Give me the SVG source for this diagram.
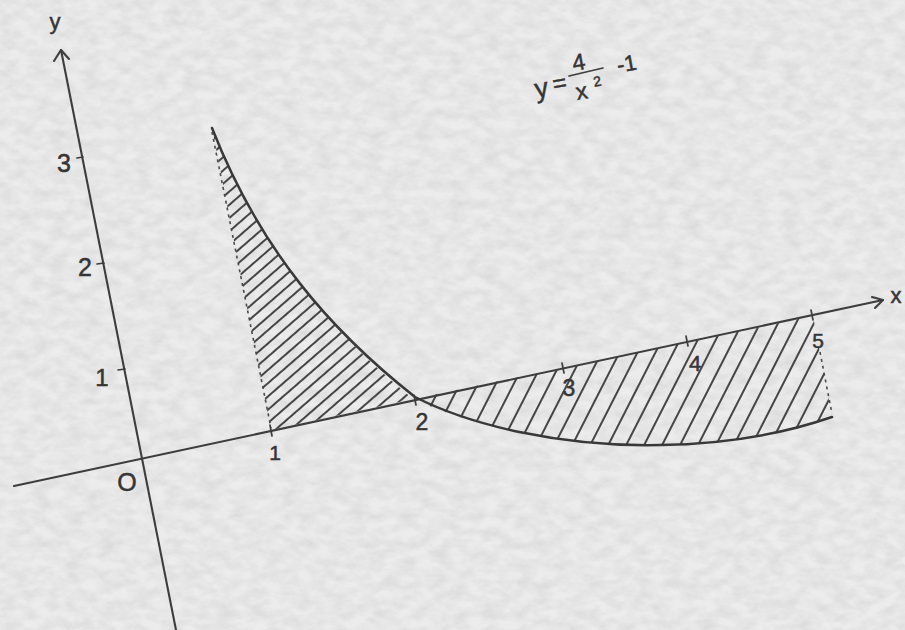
<svg xmlns="http://www.w3.org/2000/svg" width="905" height="630" viewBox="0 0 905 630">
<defs>
<style>
.ax{fill:none;stroke:#3d3d3d;stroke-width:2.1;stroke-linecap:round;stroke-linejoin:round}
.cv{fill:none;stroke:#383838;stroke-width:2.5;stroke-linecap:round}
.ds{fill:none;stroke:#4a4a4a;stroke-width:1.6;stroke-dasharray:3 4}
.tk{fill:none;stroke:#3d3d3d;stroke-width:1.7;stroke-linecap:round}
.hl{stroke:#454545;stroke-width:1.8}
text{font-family:"Liberation Sans","DejaVu Sans",sans-serif;fill:#353535;stroke:#353535;stroke-width:0.5}
.lb{text-anchor:middle}
.fm{text-anchor:middle}
</style>
<filter id="paper" x="0" y="0" width="100%" height="100%">
<feTurbulence type="fractalNoise" baseFrequency="0.06 0.1" numOctaves="4" seed="7"/>
<feColorMatrix type="matrix" values="0 0 0 0 0  0 0 0 0 0  0 0 0 0 0  0.12 0 0 0 -0.035"/>
</filter>
<pattern id="hatchL" width="40" height="10" patternUnits="userSpaceOnUse" patternTransform="rotate(-41)">
<line class="hl" x1="0" y1="5" x2="40" y2="5"/>
</pattern>
<pattern id="hatchR" width="40" height="16" patternUnits="userSpaceOnUse" patternTransform="rotate(-63)">
<line class="hl" x1="0" y1="8" x2="40" y2="8"/>
</pattern>
</defs>
<rect width="905" height="630" fill="#ececec"/>
<rect width="905" height="630" filter="url(#paper)"/>

<g id="hatching">
<path d="M212,128 C260,250 330,330 413,399 L271,430 Z" fill="url(#hatchL)"/>
<path d="M413,399 C470,425 560,447 660,445 C740,444 800,428 832,417 L813,316 Z" fill="url(#hatchR)"/>
</g>

<g id="connectors">
<line class="ax" x1="14" y1="486" x2="883" y2="300"/>
<polyline class="ax" points="872,297 883,300 875,308"/>
<line class="ax" x1="61" y1="50" x2="176" y2="630"/>
<polyline class="ax" points="54,61 61,50 69,59"/>
<path class="cv" d="M212,128 C260,250 330,330 415,397 C470,425 560,447 660,445 C740,444 800,428 832,417"/>
<line class="ds" x1="212" y1="132" x2="271" y2="428"/>
<line class="ds" x1="820" y1="352" x2="832" y2="414"/>
<g id="ticks">
<line class="tk" x1="270" y1="425" x2="272" y2="436"/>
<line class="tk" x1="414" y1="395" x2="416" y2="405"/>
<line class="tk" x1="562" y1="363" x2="564" y2="373"/>
<line class="tk" x1="686" y1="336" x2="688" y2="346"/>
<line class="tk" x1="811" y1="310" x2="813" y2="320"/>
<line class="tk" x1="77" y1="158" x2="83" y2="157"/>
<line class="tk" x1="97" y1="264" x2="104" y2="263"/>
<line class="tk" x1="118" y1="370" x2="125" y2="369"/>
</g>
</g>

<g id="labels">
<text class="lb" x="55" y="29" font-size="22">y</text>
<text class="lb" x="64" y="172" font-size="25">3</text>
<text class="lb" x="85" y="276" font-size="25">2</text>
<text class="lb" x="102" y="386" font-size="24">1</text>
<text class="lb" x="127" y="491" font-size="25">O</text>
<text class="lb" x="275" y="460" font-size="21">1</text>
<text class="lb" x="422" y="430" font-size="23">2</text>
<text class="lb" x="569" y="396" font-size="23">3</text>
<text class="lb" x="695" y="371" font-size="22">4</text>
<text class="lb" x="818" y="348" font-size="21">5</text>
<text class="lb" x="896" y="303" font-size="22">x</text>
</g>

<g id="formula">
<text class="fm" x="543" y="97" font-size="27" transform="rotate(-10 543 97)">y</text>
<text class="fm" x="561" y="91" font-size="24" transform="rotate(-10 561 91)">=</text>
<text class="fm" x="580" y="70" font-size="23" transform="rotate(-10 580 70)">4</text>
<line class="tk" x1="569" y1="76" x2="603" y2="68" stroke-width="2.3"/>
<text class="fm" x="583" y="99" font-size="23" transform="rotate(-10 583 99)">x</text>
<text class="fm" x="598" y="86" font-size="14" transform="rotate(-10 598 86)">2</text>
<text class="fm" x="628" y="71" font-size="22" transform="rotate(-10 628 71)">-1</text>
</g>
</svg>
